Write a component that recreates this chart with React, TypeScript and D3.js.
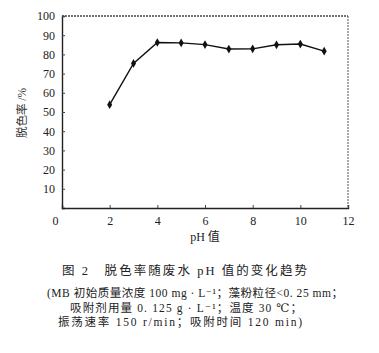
import { useEffect, useRef } from "react"
import * as d3 from "d3"

const phValues = [2, 3, 4, 5, 6, 7, 8, 9, 10, 11]
const removalRates = [53.8, 75.3, 86.2, 86.0, 85.1, 82.8, 82.9, 85.0, 85.4, 81.7]
const xTicks = [0, 2, 4, 6, 8, 10, 12]
const yTicks = [10, 20, 30, 40, 50, 60, 70, 80, 90, 100]

const xLabel = "pH 值"
const yLabel = "脱色率 /%"
const captionLines = [
  "图 2　脱色率随废水 pH 值的变化趋势",
  "(MB 初始质量浓度 100 mg · L⁻¹；藻粉粒径<0. 25 mm；",
  "吸附剂用量 0. 125 g · L⁻¹；温度 30 ℃；",
  "振荡速率 150 r/min；吸附时间 120 min)",
]

const font = "Liberation Serif, Times New Roman, DejaVu Serif, Noto Sans CJK SC, serif"

export default function App() {
  const svgRef = useRef<SVGSVGElement>(null)

  useEffect(() => {
    if (!svgRef.current) return
    const width = 379
    const height = 353
    const margin = { top: 16, left: 62, right: 31, bottom: 145 }
    const innerW = width - margin.left - margin.right
    const innerH = height - margin.top - margin.bottom

    const svg = d3.select(svgRef.current)
    svg.selectAll("*").remove()
    svg.append("rect").attr("width", width).attr("height", height).attr("fill", "#fff")

    const g = svg.append("g").attr("transform", `translate(${margin.left},${margin.top})`)

    const x = d3.scaleLinear().domain([0, 12]).range([0, innerW])
    const y = d3.scaleLinear().domain([0, 100]).range([innerH, 0])

    // frame top / right (lighter, scanned look)
    g.append("line")
      .attr("x1", 0).attr("x2", innerW).attr("y1", 0).attr("y2", 0)
      .attr("stroke", "#444").attr("stroke-width", 1.3).attr("stroke-dasharray", "2,1")
    g.append("line")
      .attr("x1", innerW).attr("x2", innerW).attr("y1", 0).attr("y2", innerH)
      .attr("stroke", "#555").attr("stroke-width", 1).attr("stroke-dasharray", "2,1")

    const xAxis = g.append("g")
      .attr("transform", `translate(0,${innerH})`)
      .call(d3.axisBottom(x).tickValues(xTicks).tickSize(-3).tickPadding(8).tickFormat(d3.format("d")))
      .attr("font-family", font)
    xAxis.select(".domain").attr("stroke", "#222").attr("stroke-width", 1.4)
    xAxis.selectAll("line").attr("stroke", "#444")
    xAxis.selectAll("text")
      .attr("font-size", 12).attr("fill", "#222")
      .attr("dx", (d: any) => (d === 0 ? -7 : 0))

    const yAxis = g.append("g")
      .call(d3.axisLeft(y).tickValues(yTicks).tickSize(-3).tickPadding(7).tickFormat(d3.format("d")))
      .attr("font-family", font)
    yAxis.select(".domain").attr("stroke", "#222").attr("stroke-width", 1.4)
    yAxis.selectAll("line").attr("stroke", "#444")
    yAxis.selectAll("text").attr("font-size", 12).attr("fill", "#222")

    const points = phValues.map((p, i) => [p, removalRates[i]] as [number, number])
    const line = d3.line<[number, number]>().x((d) => x(d[0])).y((d) => y(d[1]))
    g.append("path").datum(points)
      .attr("d", line).attr("fill", "none").attr("stroke", "#111").attr("stroke-width", 1.4)

    g.selectAll(".pt").data(points).enter().append("path")
      .attr("class", "pt")
      .attr("transform", (d) => `translate(${x(d[0])},${y(d[1])})`)
      .attr("d", d3.symbol().type(d3.symbolDiamond).size(22)())
      .attr("fill", "#111")

    svg.append("text")
      .attr("x", margin.left + x(6)).attr("y", 241)
      .attr("text-anchor", "middle").attr("font-family", font).attr("font-size", 12)
      .attr("fill", "#222").text(xLabel)

    svg.append("text")
      .attr("transform", `translate(26,${margin.top + innerH / 2 + 1}) rotate(-90)`)
      .attr("text-anchor", "middle").attr("font-family", font).attr("font-size", 11.5)
      .attr("fill", "#333").text(yLabel)

    const caps = [
      { y: 275, x1: 62, x2: 307, size: 12.5 },
      { y: 297, x1: 47, x2: 343, size: 11.5 },
      { y: 311.5, x1: 70, x2: 302, size: 11.5 },
      { y: 325.5, x1: 58, x2: 302, size: 11.5 },
    ]
    captionLines.forEach((t, i) => {
      const c = caps[i]
      svg.append("text")
        .attr("x", c.x1).attr("y", c.y)
        .attr("textLength", c.x2 - c.x1).attr("lengthAdjust", "spacing")
        .attr("font-family", font).attr("font-size", c.size).attr("fill", "#222")
        .text(t)
    })
  }, [])

  return (
    <svg ref={svgRef} width={379} height={353}
      style={{ position: "absolute", left: 0, top: 0 }} />
  )
}
